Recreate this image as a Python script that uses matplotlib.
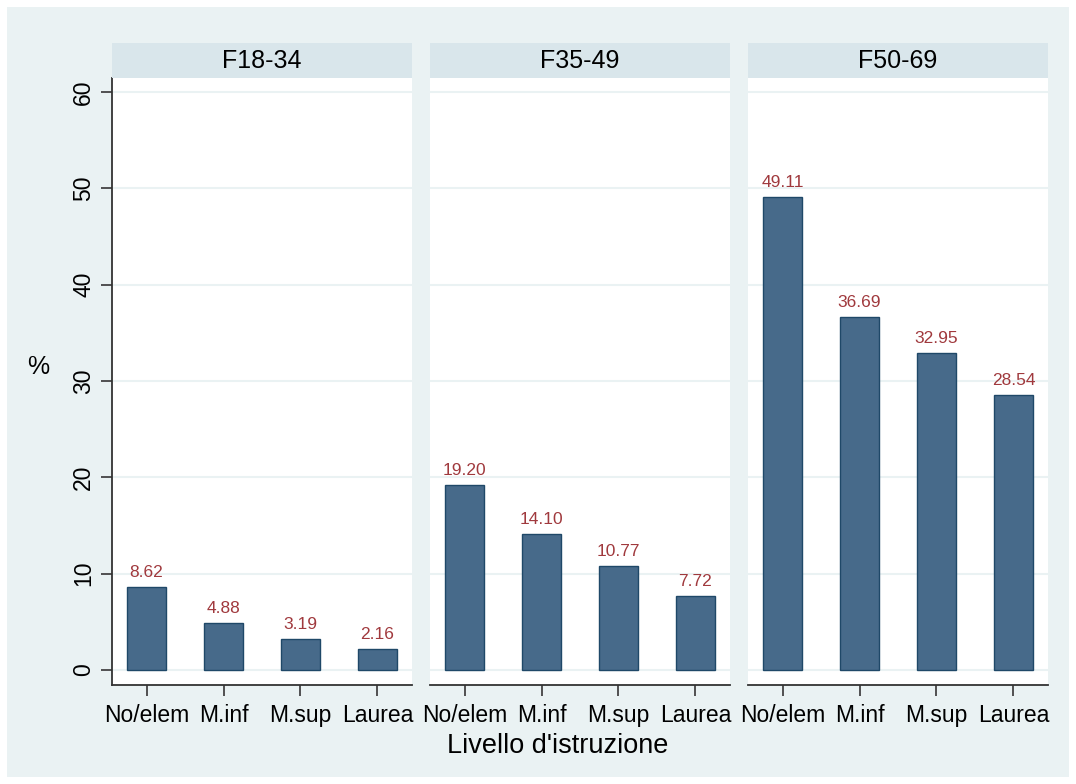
import matplotlib.pyplot as plt
from matplotlib.patches import Rectangle

plt.rcParams['font.family'] = ['Liberation Sans', 'DejaVu Sans']

groups = ['F18-34', 'F35-49', 'F50-69']
categories = ['No/elem', 'M.inf', 'M.sup', 'Laurea']
values = {
    'F18-34': [8.62, 4.88, 3.19, 2.16],
    'F35-49': [19.20, 14.10, 10.77, 7.72],
    'F50-69': [49.11, 36.69, 32.95, 28.54],
}
yticks = [0, 10, 20, 30, 40, 50, 60]

W, H = 1076, 784
bg = '#EAF2F3'
bar_color = '#476A8A'
bar_edge = '#1F4868'
label_color = '#A0393D'
strip_color = '#D9E6EB'

fig = plt.figure(figsize=(W / 100, H / 100), dpi=100)
fig.patch.set_facecolor('white')
fig.patches.append(Rectangle((7 / W, 7 / H), (W - 14) / W, (H - 14) / H,
                             transform=fig.transFigure, facecolor=bg,
                             edgecolor='none', zorder=-10))

lefts = [112, 430, 748]
pw = 300
top, bottom = 78, 685
strip_top = 43

for i, (g, x0) in enumerate(zip(groups, lefts)):
    ax = fig.add_axes([x0 / W, (H - bottom) / H, pw / W, (bottom - top) / H])
    ax.set_facecolor('white')
    xs = range(len(categories))
    ax.bar(xs, values[g], width=0.5, color=bar_color, edgecolor=bar_edge,
           linewidth=1, zorder=3)
    for x, v in zip(xs, values[g]):
        ax.annotate(f'{v:.2f}', (x, v), xytext=(0, 5), textcoords='offset points',
                    ha='center', va='bottom', fontsize=12.5, color=label_color)
    ax.set_xlim(-0.45, 3.45)
    ax.set_ylim(-1.56, 61.45)
    ax.set_yticks(yticks)
    ax.grid(axis='y', color=bg, linewidth=1.5, zorder=0)
    ax.set_axisbelow(True)
    for s in ['top', 'right']:
        ax.spines[s].set_visible(False)
    ax.spines['bottom'].set_color('#333333')
    ax.spines['bottom'].set_linewidth(1.3)
    ax.set_xticks(list(xs))
    ax.set_xticklabels(categories, fontsize=16.5)
    ax.tick_params(axis='x', length=8, width=1.3, color='#444444', pad=6)
    if i == 0:
        ax.spines['left'].set_color('#333333')
        ax.spines['left'].set_linewidth(1.3)
        ax.set_yticklabels([str(t) for t in yticks], rotation=90, va='center',
                           fontsize=16.5)
        ax.tick_params(axis='y', length=8, width=1.3, color='#444444', pad=4)
    else:
        ax.spines['left'].set_visible(False)
        ax.tick_params(axis='y', length=0, labelleft=False)

    sax = fig.add_axes([x0 / W, (H - top) / H, pw / W, (top - strip_top) / H])
    sax.set_facecolor(strip_color)
    sax.set_xticks([])
    sax.set_yticks([])
    for s in sax.spines.values():
        s.set_visible(False)
    sax.text(0.5, 0.5, g, ha='center', va='center', fontsize=18,
             transform=sax.transAxes)

fig.text(38 / W, 1 - 367 / H, '%', ha='center', va='center', fontsize=18)
fig.text(558 / W, 1 - 746 / H, "Livello d'istruzione",
         ha='center', va='center', fontsize=19.5)

fig.savefig('out.png', dpi=100)
